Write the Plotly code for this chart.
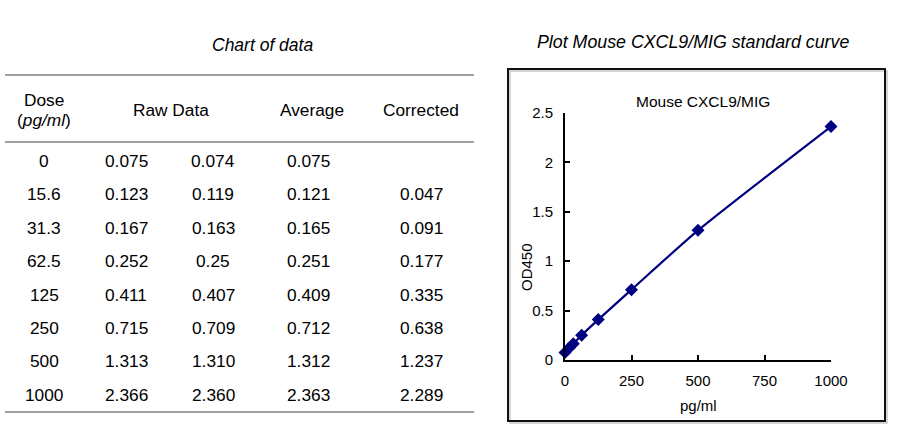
import plotly.graph_objects as go

# ---- data ----
dose_labels = ["0", "15.6", "31.3", "62.5", "125", "250", "500", "1000"]
dose = [0, 15.6, 31.3, 62.5, 125, 250, 500, 1000]
raw1 = ["0.075", "0.123", "0.167", "0.252", "0.411", "0.715", "1.313", "2.366"]
raw2 = ["0.074", "0.119", "0.163", "0.25", "0.407", "0.709", "1.310", "2.360"]
average = ["0.075", "0.121", "0.165", "0.251", "0.409", "0.712", "1.312", "2.363"]
corrected = ["", "0.047", "0.091", "0.177", "0.335", "0.638", "1.237", "2.289"]
od_avg = [0.075, 0.121, 0.165, 0.251, 0.409, 0.712, 1.312, 2.363]
x_ticks = [0, 250, 500, 750, 1000]
y_ticks = [0, 0.5, 1, 1.5, 2, 2.5]
y_tick_text = ["0", "0.5", "1", "1.5", "2", "2.5"]

W, H = 907, 441
FONT = "Liberation Sans, Arial, sans-serif"
NAVY = "#000080"


def px(x):
    return x / W


def py(y):
    return 1 - y / H


fig = go.Figure()
fig.add_trace(go.Scatter(
    x=dose, y=od_avg, mode="lines+markers",
    line=dict(color=NAVY, width=2.2, shape="spline", smoothing=0.6),
    marker=dict(symbol="diamond", size=10, color=NAVY),
    cliponaxis=False, showlegend=False, hoverinfo="x+y",
))

annotations = []
shapes = []


def txt(x, y, s, size=17.3, italic=False, **kw):
    annotations.append(dict(
        x=px(x), y=py(y), xref="paper", yref="paper", text=s, showarrow=False,
        xanchor="center", yanchor="middle",
        font=dict(family=FONT, size=size, color="#000000",
                  style="italic" if italic else "normal"), **kw))


# ---- table ----
txt(262, 45, "Chart of data", size=17.5, italic=True)
for yy in (75, 142, 412):
    shapes.append(dict(type="line", xref="paper", yref="paper",
                       x0=px(5), x1=px(474), y0=py(yy), y1=py(yy),
                       line=dict(color="#808080", width=1.5)))
txt(44, 100, "Dose")
txt(44, 120, "(<i>pg/ml</i>)")
txt(171, 110, "Raw Data")
txt(312, 110, "Average")
txt(421, 110, "Corrected")

col_x = [44, 126, 213, 308, 421]
cols = [dose_labels, raw1, raw2, average, corrected]
for i in range(len(dose_labels)):
    yy = 161 + i * 33.4
    for cx, col in zip(col_x, cols):
        if col[i]:
            txt(cx, yy, col[i])

# ---- chart frame & titles ----
txt(693, 42, "Plot Mouse CXCL9/MIG standard curve", size=17.8, italic=True)
shapes.append(dict(type="rect", xref="paper", yref="paper",
                   x0=px(510), x1=px(887), y0=py(71), y1=py(423),
                   line=dict(color="#c8c8c8", width=1.5), layer="below"))
shapes.append(dict(type="rect", xref="paper", yref="paper",
                   x0=px(508), x1=px(885), y0=py(69), y1=py(421),
                   line=dict(color="#111111", width=2), layer="below"))
txt(703, 101, "Mouse CXCL9/MIG", size=15.5)
txt(698, 405, "pg/ml", size=15)
txt(526, 267, "OD450", size=15, textangle=-90)

fig.update_layout(
    width=W, height=H, margin=dict(l=0, r=0, t=0, b=0, pad=0, autoexpand=False),
    paper_bgcolor="white", plot_bgcolor="white",
    annotations=annotations, shapes=shapes,
    xaxis=dict(domain=[px(565), px(831)], range=[0, 1000], tickvals=x_ticks,
               ticks="inside", ticklen=5, tickwidth=1.5, tickcolor="#000",
               showline=True, linecolor="#000", linewidth=2, showgrid=False,
               zeroline=False, fixedrange=True, automargin=False,
               tickfont=dict(family=FONT, size=15, color="#000"),
               ticklabelstandoff=6),
    yaxis=dict(domain=[py(360), py(113)], range=[0, 2.5], tickvals=y_ticks,
               ticktext=y_tick_text,
               ticks="inside", ticklen=5, tickwidth=1.5, tickcolor="#000",
               showline=True, linecolor="#000", linewidth=2, showgrid=False,
               zeroline=False, fixedrange=True, automargin=False,
               tickfont=dict(family=FONT, size=15, color="#000"),
               ticklabelstandoff=7),
)

fig.write_html(
    "out.html",
    config={"displayModeBar": False},
    post_script="document.body.style.margin='0';document.body.style.padding='0';"
                "document.documentElement.style.overflow='hidden';",
)
